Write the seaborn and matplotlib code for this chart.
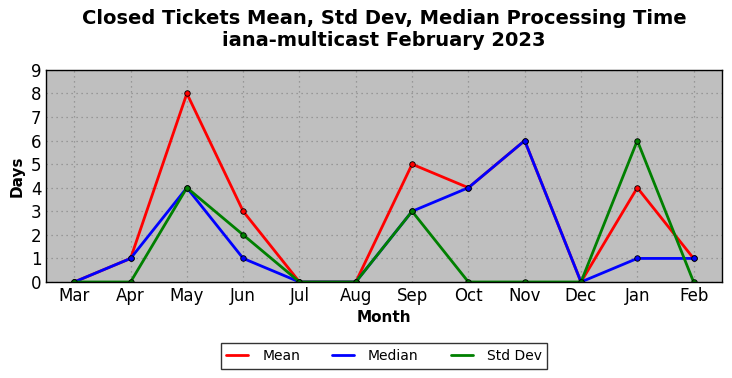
import pandas as pd
import matplotlib
matplotlib.use("Agg")
import matplotlib.pyplot as plt
import seaborn as sns
from matplotlib.lines import Line2D

months = ["Mar", "Apr", "May", "Jun", "Jul", "Aug", "Sep", "Oct", "Nov", "Dec", "Jan", "Feb"]
mean_days = [0, 1, 8, 3, 0, 0, 5, 4, 6, 0, 4, 1]
median_days = [0, 1, 4, 1, 0, 0, 3, 4, 6, 0, 1, 1]
std_days = [0, 0, 4, 2, 0, 0, 3, 0, 0, 0, 6, 0]

df = pd.DataFrame({"Month": months, "Mean": mean_days, "Median": median_days, "Std Dev": std_days})
df["pos"] = range(len(months))

sns.set_style("white")
plt.rcParams["font.family"] = ["DejaVu Sans"]
for k in ["text.color", "axes.labelcolor", "xtick.color", "ytick.color"]:
    plt.rcParams[k] = "black"

fig = plt.figure(figsize=(7.32, 3.78), dpi=100)
ax = fig.add_axes([0.063, 0.254, 0.923, 0.561])
ax.set_facecolor("#bfbfbf")

for col, color in [("Mean", "red"), ("Median", "blue"), ("Std Dev", "green")]:
    sns.lineplot(data=df, x="pos", y=col, ax=ax, color=color, linewidth=2, label=col,
                 marker="o", markersize=4, markerfacecolor=color, markeredgecolor="black",
                 markeredgewidth=0.6, sort=False)

ax.set_xlim(-0.5, 11.5)
ax.set_ylim(0, 9)
ax.set_xticks(df["pos"])
ax.set_xticklabels(months)
ax.set_yticks(range(0, 10))
ax.tick_params(axis="both", labelsize=12, length=4, direction="in", color="black")
ax.grid(True, color="#8a8a8a", linestyle=(0, (1, 3)), linewidth=0.9)
for s in ax.spines.values():
    s.set_color("black")
    s.set_linewidth(1)

ax.set_xlabel("Month", fontsize=11, fontweight="bold")
ax.set_ylabel("Days", fontsize=11, fontweight="bold")
ax.set_title("Closed Tickets Mean, Std Dev, Median Processing Time\niana-multicast February 2023",
             fontsize=14, fontweight="bold", pad=17)

labels = ["Mean", "Median", "Std Dev"]
handles = [Line2D([], [], color=c, linewidth=2) for c in ["red", "blue", "green"]]
leg = ax.legend(handles, labels, loc="upper center", bbox_to_anchor=(0.5, -0.257), ncol=3,
                fontsize=10, frameon=True, fancybox=False, columnspacing=2.3, handlelength=1.6,
                handletextpad=1.0, borderpad=0.4)
leg.get_frame().set_edgecolor("black")
leg.get_frame().set_linewidth(1)

fig.savefig("out.png", dpi=100)
